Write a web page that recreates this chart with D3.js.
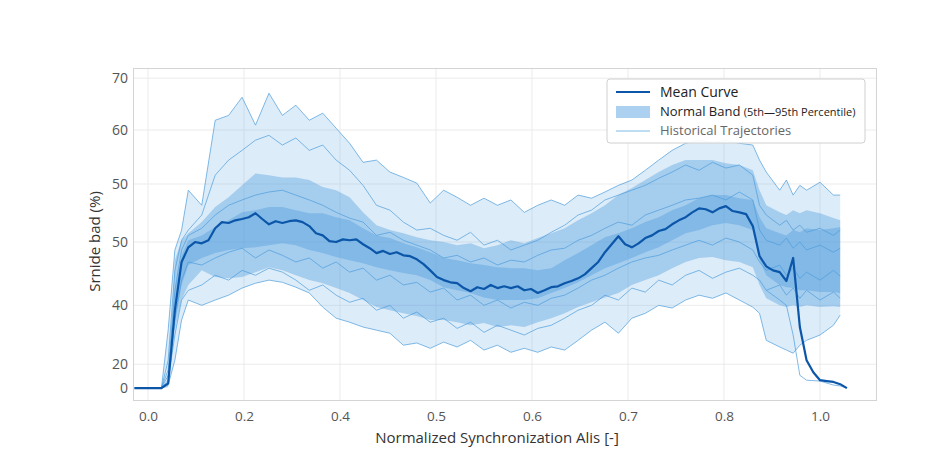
<!DOCTYPE html>
<html>
<head>
<meta charset="utf-8">
<script src="https://cdn.jsdelivr.net/npm/d3@7"></script>
<style>
  html, body { margin: 0; padding: 0; background: #ffffff; }
  svg { display: block; font-family: "Open Sans", "Noto Sans", sans-serif; }
</style>
</head>
<body>
<svg id="chart" width="928" height="455"></svg>
<script>
// ---------- DATA ----------
// x positions shared by the band and trajectory series
const xs = [-0.02, 0, 0.02, 0.03, 0.04, 0.05, 0.06, 0.08, 0.10, 0.12, 0.14, 0.16, 0.18, 0.20, 0.22, 0.24, 0.26, 0.28, 0.30, 0.32, 0.34, 0.36, 0.38, 0.40, 0.42, 0.44, 0.46, 0.48, 0.50, 0.52, 0.54, 0.56, 0.58, 0.60, 0.62, 0.64, 0.66, 0.68, 0.70, 0.72, 0.74, 0.76, 0.78, 0.80, 0.82, 0.84, 0.86, 0.88, 0.90, 0.91, 0.92, 0.94, 0.95, 0.96, 0.97, 0.98, 1.00, 1.02, 1.03, 1.04];

// mean curve (finer sampling)
const meanX = [-0.02, 0.00, 0.01, 0.02, 0.03, 0.04, 0.05, 0.06, 0.07, 0.08, 0.09, 0.10, 0.11, 0.12, 0.13, 0.14, 0.15, 0.16, 0.17, 0.18, 0.19, 0.20, 0.21, 0.22, 0.23, 0.24, 0.25, 0.26, 0.27, 0.28, 0.29, 0.30, 0.31, 0.32, 0.33, 0.34, 0.35, 0.36, 0.37, 0.38, 0.39, 0.40, 0.41, 0.42, 0.43, 0.44, 0.45, 0.46, 0.47, 0.48, 0.49, 0.50, 0.51, 0.52, 0.53, 0.54, 0.55, 0.56, 0.57, 0.58, 0.59, 0.60, 0.61, 0.62, 0.63, 0.64, 0.65, 0.66, 0.67, 0.68, 0.69, 0.70, 0.71, 0.72, 0.73, 0.74, 0.75, 0.76, 0.77, 0.78, 0.79, 0.80, 0.81, 0.82, 0.83, 0.84, 0.85, 0.86, 0.87, 0.88, 0.89, 0.90, 0.91, 0.92, 0.93, 0.94, 0.95, 0.96, 0.97, 0.98, 0.99, 1.00, 1.01, 1.02, 1.03, 1.04];
const meanCurve = [0, 0, 0, 0, 1.1, 17.6, 28.5, 31.8, 33.0, 32.7, 33.4, 36.1, 37.5, 37.3, 37.9, 38.2, 38.6, 39.5, 38.2, 37.0, 37.7, 37.3, 37.7, 37.9, 37.5, 36.6, 35.0, 34.5, 33.2, 33.0, 33.6, 33.4, 33.6, 32.5, 31.6, 30.5, 31.0, 30.3, 30.7, 30.0, 29.8, 29.1, 28.0, 26.6, 25.1, 24.4, 23.9, 23.7, 22.6, 21.9, 22.8, 22.4, 23.3, 22.6, 23.0, 22.6, 23.0, 22.1, 22.4, 21.5, 22.1, 22.8, 23.0, 23.7, 24.2, 24.8, 25.7, 27.1, 28.5, 30.7, 32.5, 34.3, 32.5, 31.8, 32.7, 33.9, 34.5, 35.5, 35.9, 37.0, 37.9, 38.6, 39.7, 40.6, 40.4, 39.7, 40.6, 41.1, 40.0, 39.7, 39.3, 36.6, 29.8, 27.5, 26.6, 26.2, 24.2, 29.4, 13.8, 6.3, 3.6, 1.8, 1.6, 1.4, 0.9, 0];

// Normal band (5th–95th percentile)
const band95 = [0, 0, 0, 0.7, 28.9, 33.4, 35.0, 37.5, 40.9, 43.1, 45.8, 48.5, 48.1, 47.6, 47.6, 47.0, 45.4, 44.7, 43.1, 39.7, 36.8, 35.7, 35.0, 34.1, 33.4, 33.0, 32.3, 32.7, 31.6, 32.3, 33.4, 32.7, 33.9, 35.0, 36.1, 37.9, 39.5, 41.3, 43.6, 45.2, 47.0, 48.8, 50.4, 51.5, 51.5, 51.5, 50.8, 50.4, 49.2, 44.7, 41.3, 39.7, 39.1, 40.2, 39.5, 40.2, 39.5, 38.4, 37.9, null];
const band5 = [0, 0, 0, 0.2, 13.1, 19.9, 23.3, 26.6, 25.1, 24.8, 25.1, 26.2, 27.3, 26.6, 25.5, 24.4, 23.7, 22.6, 21.5, 19.9, 18.3, 17.6, 16.9, 16.3, 15.4, 15.4, 14.9, 14.2, 14.7, 13.8, 14.2, 13.8, 14.9, 15.8, 16.9, 18.3, 19.4, 20.5, 21.5, 23.3, 24.4, 25.5, 27.1, 28.5, 29.4, 29.6, 28.9, 28.5, 27.3, 23.3, 20.3, 18.7, 18.3, 18.7, 18.3, 18.7, 18.3, 18.5, 18.3, null];
// Core of the normal band (overlap region)
const coreHi = [0, 0, 0, 0.2, 22.1, 30.0, 33.4, 34.5, 36.4, 37.9, 39.7, 40.2, 40.9, 40.9, 40.2, 39.5, 39.5, 38.6, 37.9, 36.1, 34.5, 33.9, 32.7, 31.8, 30.7, 29.4, 28.9, 28.2, 27.8, 27.3, 27.1, 27.1, 26.6, 27.1, 28.9, 30.5, 32.3, 34.1, 35.0, 36.1, 37.5, 38.6, 40.2, 41.3, 42.9, 43.6, 43.6, 42.9, 42.5, 38.6, 36.1, 35.0, 34.5, 35.7, 35.2, 36.1, 35.7, 36.1, 36.4, null];
const coreLo = [0, 0, 0, 0.2, 15.4, 23.3, 27.8, 29.4, 30.5, 31.2, 31.6, 31.8, 32.3, 32.7, 32.3, 31.2, 30.5, 29.6, 28.9, 28.2, 27.3, 26.6, 26.0, 25.5, 24.4, 22.8, 22.1, 21.5, 20.5, 19.9, 19.9, 19.9, 20.3, 21.5, 22.6, 23.9, 25.5, 27.1, 28.2, 29.4, 30.7, 31.8, 33.4, 35.0, 35.7, 36.8, 37.3, 36.8, 35.7, 28.9, 25.5, 23.3, 22.8, 22.6, 22.1, 22.1, 21.7, 21.7, 21.5, null];

// Historical trajectories (top to bottom)
const trajA = [0, 0, 0, 13.1, 31.2, 35.7, 44.7, 41.3, 60.5, 61.6, 65.7, 59.4, 66.6, 61.6, 63.9, 60.5, 62.1, 58.7, 55.3, 51.0, 51.5, 48.8, 47.6, 46.3, 41.8, 44.7, 43.1, 41.3, 42.9, 41.3, 42.5, 39.7, 41.3, 42.5, 41.3, 43.6, 42.9, 44.3, 45.8, 47.0, 49.2, 51.5, 53.7, 55.3, 56.0, 55.5, 56.0, 55.3, 54.9, 51.5, 48.8, 44.7, 47.0, 43.6, 45.8, 44.7, 46.5, 43.6, 43.6, null];
const trajB = [0, 0, 0, 6.3, 26.6, 33.4, 35.7, 39.1, 48.1, 51.5, 53.7, 56.0, 57.1, 54.9, 56.5, 53.7, 54.9, 51.5, 49.2, 45.8, 41.3, 40.2, 37.5, 35.7, 36.1, 34.5, 33.4, 35.2, 32.3, 33.4, 31.2, 32.3, 33.4, 35.2, 36.8, 39.1, 40.2, 42.5, 43.6, 44.7, 45.8, 47.4, 48.8, 50.4, 49.2, 51.0, 49.7, 50.4, 48.1, 41.3, 39.1, 36.8, 37.9, 35.7, 36.8, 35.2, 36.1, 34.5, 35.7, null];
const trajC = [0, 0, 0, 4.1, 22.1, 31.2, 34.5, 36.1, 39.1, 41.3, 42.5, 43.6, 44.3, 44.7, 43.6, 42.5, 41.3, 39.7, 38.4, 37.5, 34.5, 35.2, 33.4, 32.3, 31.2, 29.4, 30.0, 28.5, 29.4, 27.8, 28.9, 28.5, 30.0, 31.2, 31.6, 33.4, 34.5, 36.1, 37.5, 36.8, 39.1, 40.2, 41.3, 42.5, 42.9, 43.6, 42.5, 44.3, 42.5, 35.7, 33.4, 32.3, 33.9, 31.6, 33.0, 31.2, 32.3, 30.7, 31.6, null];
const trajD = [0, 0, 0, 2.9, 15.4, 24.4, 28.5, 27.8, 29.4, 30.7, 31.6, 29.4, 31.2, 30.0, 28.5, 29.4, 27.1, 28.5, 26.2, 27.1, 24.4, 25.5, 23.3, 23.9, 21.7, 22.6, 19.9, 21.0, 18.7, 19.9, 18.1, 19.4, 18.7, 20.3, 21.0, 22.6, 24.4, 25.5, 27.1, 28.5, 29.4, 30.0, 31.2, 32.3, 33.4, 32.3, 33.9, 33.0, 31.2, 28.5, 26.6, 27.8, 25.5, 27.1, 24.8, 26.2, 24.4, 26.6, 25.3, null];
const trajE = [0, 0, 0, 1.8, 12.0, 19.9, 22.1, 23.3, 25.5, 24.4, 26.6, 25.5, 27.1, 26.2, 24.4, 22.1, 23.3, 21.0, 19.4, 20.3, 17.6, 18.7, 15.8, 17.2, 14.9, 15.8, 13.5, 14.9, 12.6, 14.2, 13.1, 12.0, 13.5, 14.2, 15.8, 17.6, 18.7, 21.0, 19.9, 22.6, 21.7, 24.4, 23.3, 25.5, 26.6, 24.8, 26.2, 27.1, 25.5, 24.4, 22.1, 23.3, 21.0, 22.6, 20.3, 22.1, 19.9, 21.7, 20.3, null];
const trajF = [0, 0, 0, 0.7, 6.3, 15.4, 19.9, 18.7, 19.9, 21.0, 22.6, 23.7, 24.4, 23.9, 22.8, 21.5, 18.3, 15.8, 14.9, 13.8, 13.1, 12.4, 9.7, 10.2, 9.0, 10.4, 9.3, 10.8, 8.6, 9.7, 8.1, 9.0, 8.1, 9.3, 8.6, 10.8, 13.1, 14.9, 12.4, 15.8, 16.9, 18.7, 18.1, 19.9, 21.0, 20.3, 21.5, 19.9, 18.3, 16.9, 10.8, 9.3, 8.6, 7.9, 9.7, 10.8, 12.0, 14.2, 16.5, null];
const trajG = [null, null, null, null, null, null, null, null, null, null, null, null, null, null, null, null, null, null, null, null, null, null, null, null, null, null, null, null, null, null, null, null, null, null, null, null, null, null, null, null, null, null, null, null, null, null, null, null, null, null, 22.1, 19.9, 18.7, 12.0, 2.9, 1.8, 1.6, 0.7, 0.5, 0];

const trajectories = [trajA, trajB, trajC, trajD, trajE, trajF, trajG];

// Axis ticks and labels (as printed in the figure)
const xTickValues = [0, 0.1429, 0.2857, 0.4286, 0.5714, 0.7143, 0.8571, 1.0];
const xTickLabels = ["0.0", "0.2", "0.4", "0.5", "0.6", "0.7", "0.8", "1.0"];
const yTickValues = [0, 5.4, 18.7, 33.0, 46.1, 58.3, 70];
const yTickLabels = ["0", "20", "40", "50", "50", "60", "70"];

const xTitle = "Normalized Synchronization Alis [-]";
const yTitle = "Srnide bad (%)";
const legendItems = ["Mean Curve", "Normal Band", "Historical Trajectories"];

// ---------- LAYOUT ----------
const svg = d3.select("#chart");
const plot = { left: 133, right: 877, top: 68, bottom: 401 };

const x = d3.scaleLinear().domain([-0.0223, 1.0848]).range([plot.left, plot.right]);
const y = d3.scaleLinear().domain([-2.9, 72.3]).range([plot.bottom, plot.top]);

const idx = d3.range(xs.length);

svg.append("defs").append("clipPath").attr("id", "clip")
  .append("rect").attr("x", plot.left).attr("y", plot.top)
  .attr("width", plot.right - plot.left).attr("height", plot.bottom - plot.top);

// grid
const grid = svg.append("g");
grid.selectAll("line.vx").data(xTickValues).join("line")
  .attr("x1", d => x(d)).attr("x2", d => x(d))
  .attr("y1", plot.top).attr("y2", plot.bottom)
  .attr("stroke", "#ebebeb").attr("stroke-width", 1);
grid.selectAll("line.hy").data(yTickValues.filter(v => v > 0)).join("line")
  .attr("x1", plot.left).attr("x2", plot.right)
  .attr("y1", d => y(d)).attr("y2", d => y(d))
  .attr("stroke", "#ebebeb").attr("stroke-width", 1);

// frame
svg.append("rect")
  .attr("x", plot.left + 0.5).attr("y", plot.top + 0.5)
  .attr("width", plot.right - plot.left - 1).attr("height", plot.bottom - plot.top - 1)
  .attr("fill", "none").attr("stroke", "#d4d4d4").attr("stroke-width", 1);

const g = svg.append("g").attr("clip-path", "url(#clip)");

// envelope of historical range
const envArea = d3.area()
  .defined(i => trajA[i] !== null && trajF[i] !== null)
  .x(i => x(xs[i])).y0(i => y(trajF[i])).y1(i => y(trajA[i]));
g.append("path").attr("d", envArea(idx))
  .attr("fill", "rgb(120,180,230)").attr("fill-opacity", 0.26);

// normal band
const bandArea = d3.area()
  .defined(i => band95[i] !== null)
  .x(i => x(xs[i])).y0(i => y(band5[i])).y1(i => y(band95[i]));
g.append("path").attr("d", bandArea(idx))
  .attr("fill", "rgb(70,150,220)").attr("fill-opacity", 0.36);

const coreArea = d3.area()
  .defined(i => coreHi[i] !== null)
  .x(i => x(xs[i])).y0(i => y(coreLo[i])).y1(i => y(coreHi[i]));
g.append("path").attr("d", coreArea(idx))
  .attr("fill", "rgb(70,150,220)").attr("fill-opacity", 0.36);

// trajectories
trajectories.forEach(t => {
  const ln = d3.line().defined(i => t[i] !== null)
    .x(i => x(xs[i])).y(i => y(t[i]));
  g.append("path").attr("d", ln(idx))
    .attr("fill", "none").attr("stroke", "#4d9ddb")
    .attr("stroke-width", 1).attr("stroke-opacity", 0.7);
});

// mean curve
const meanIdx = d3.range(meanX.length);
const meanLine = d3.line().x(i => x(meanX[i])).y(i => y(meanCurve[i]));
g.append("path").attr("d", meanLine(meanIdx))
  .attr("fill", "none").attr("stroke", "#0b56a8").attr("stroke-width", 2.2)
  .attr("stroke-linejoin", "round");

// axes
const xAxis = d3.axisBottom(x).tickValues(xTickValues)
  .tickFormat((d, i) => xTickLabels[i]).tickSize(0).tickPadding(10);
const xg = svg.append("g").attr("transform", `translate(0,${plot.bottom})`).call(xAxis);
xg.select(".domain").remove();
xg.selectAll("text").attr("fill", "#555").style("font-size", "13.5px")
  .style("font-family", "'Open Sans', sans-serif");

const yAxis = d3.axisLeft(y).tickValues(yTickValues)
  .tickFormat((d, i) => yTickLabels[i]).tickSize(0).tickPadding(5);
const yg = svg.append("g").attr("transform", `translate(${plot.left},0)`).call(yAxis);
yg.select(".domain").remove();
yg.selectAll("text").attr("fill", "#555").style("font-size", "14px")
  .style("font-family", "'Open Sans', sans-serif");

// titles
svg.append("text").attr("x", (plot.left + plot.right) / 2 - 8).attr("y", 443)
  .attr("text-anchor", "middle").attr("fill", "#333").style("font-size", "15px")
  .text(xTitle);
svg.append("text").attr("transform", `translate(100,${(plot.top + plot.bottom) / 2 + 7}) rotate(-90)`)
  .attr("text-anchor", "middle").attr("fill", "#333").style("font-size", "15px")
  .text(yTitle);

// legend
const lg = svg.append("g").attr("transform", "translate(607,79)");
lg.append("rect").attr("width", 258).attr("height", 64).attr("rx", 3)
  .attr("fill", "#ffffff").attr("fill-opacity", 0.92)
  .attr("stroke", "#d0d0d0").attr("stroke-width", 1);
lg.append("line").attr("x1", 9).attr("x2", 43).attr("y1", 13).attr("y2", 13)
  .attr("stroke", "#0b56a8").attr("stroke-width", 2);
lg.append("rect").attr("x", 9).attr("y", 27).attr("width", 34).attr("height", 12)
  .attr("fill", "rgb(70,150,220)").attr("fill-opacity", 0.45);
lg.append("line").attr("x1", 9).attr("x2", 43).attr("y1", 52).attr("y2", 52)
  .attr("stroke", "#7dbbe8").attr("stroke-width", 1.2);
lg.append("text").attr("x", 53).attr("y", 18).attr("fill", "#222")
  .style("font-size", "14px").text(legendItems[0]);
const t2 = lg.append("text").attr("x", 53).attr("y", 37).attr("fill", "#222")
  .style("font-size", "13px");
t2.append("tspan").text(legendItems[1] + " ");
t2.append("tspan").style("font-size", "11px").text("(5th\u201495th Percentile)");
lg.append("text").attr("x", 53).attr("y", 56).attr("fill", "#666")
  .style("font-size", "13px").text(legendItems[2]);
</script>
</body>
</html>
